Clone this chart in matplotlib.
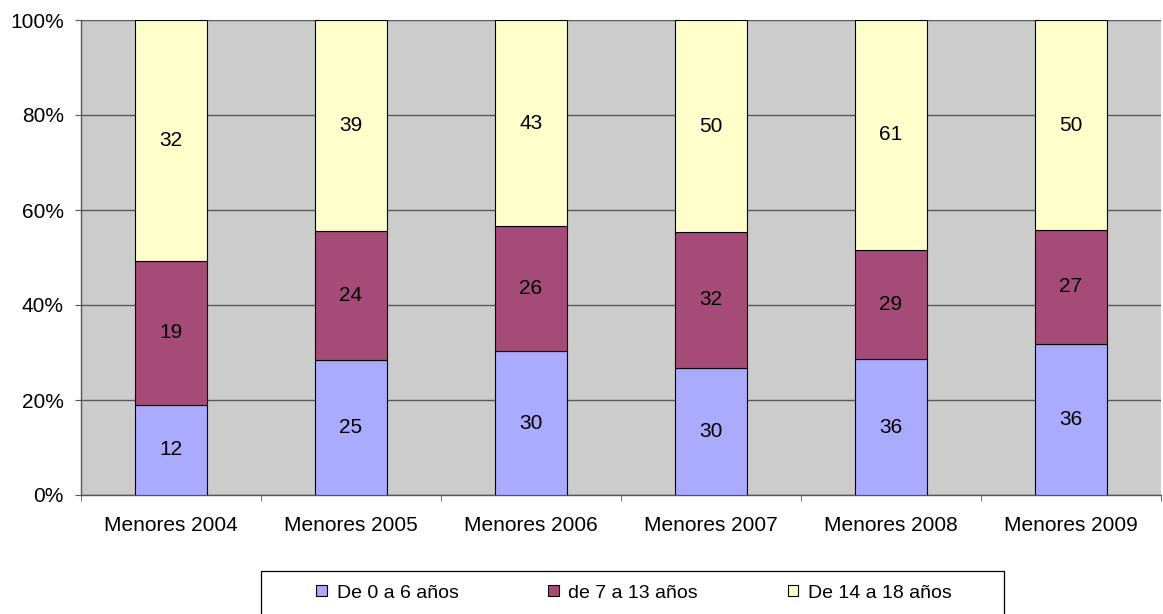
import matplotlib
matplotlib.use("Agg")
import matplotlib.pyplot as plt
import numpy as np
from matplotlib.patches import Patch, Rectangle
from matplotlib.ticker import PercentFormatter

plt.rcParams['font.family'] = ['Liberation Sans', 'DejaVu Sans']

categories = ["Menores 2004", "Menores 2005", "Menores 2006", "Menores 2007", "Menores 2008", "Menores 2009"]
series_names = ["De 0 a 6 años", "de 7 a 13 años", "De 14 a 18 años"]
s0_6 = [12, 25, 30, 30, 36, 36]
s7_13 = [19, 24, 26, 32, 29, 27]
s14_18 = [32, 39, 43, 50, 61, 50]
colors = ["#AAAAFF", "#A64B78", "#FFFFCC"]

data = np.array([s0_6, s7_13, s14_18], dtype=float)
totals = data.sum(axis=0)
pct = data / totals * 100

W, H = 1163, 614
fig = plt.figure(figsize=(W / 100, H / 100), dpi=100)
ax = fig.add_axes([81 / W, 1 - 495 / H, (1161 - 81) / W, (495 - 20) / H])
ax.set_facecolor("#CCCCCC")

x = np.arange(len(categories))
bottom = np.zeros(len(categories))
for i in range(3):
    ax.bar(x, pct[i], 0.4, bottom=bottom, color=colors[i], edgecolor="black", linewidth=0.8, zorder=3)
    for j in range(len(categories)):
        ax.text(x[j], bottom[j] + pct[i][j] / 2, f"{int(data[i][j])}", ha="center", va="center",
                fontsize=15, color="black", zorder=4)
    bottom += pct[i]

ax.set_xlim(-0.5, len(categories) - 0.5)
ax.set_ylim(0, 100)
ax.set_yticks(np.arange(0, 101, 20))
ax.yaxis.set_major_formatter(PercentFormatter(decimals=0))
ax.set_xticks(x)
ax.set_xticklabels(categories)
ax.set_xticks(np.arange(-0.5, len(categories), 1), minor=True)
ax.tick_params(axis="x", which="major", length=0, pad=15, labelsize=15)
ax.tick_params(axis="x", which="minor", length=4, color="#555555", direction="out")
ax.tick_params(axis="y", length=4.5, color="#555555", direction="out", labelsize=15, pad=8)
ax.grid(axis="y", color="#5A5A5A", linewidth=1, zorder=1)
for s in ["top", "right"]:
    ax.spines[s].set_visible(False)
for s in ["left", "bottom"]:
    ax.spines[s].set_color("#555555")
    ax.spines[s].set_linewidth(1)

# legend frame (drawn as a rectangle, partly cut by the figure's bottom edge)
fig.patches.append(Rectangle((261 / W, 1 - 616 / H), (1004 - 261) / W, (616 - 571) / H,
                             transform=fig.transFigure, facecolor="white", edgecolor="black",
                             linewidth=0.9, zorder=0))

handles = [Patch(facecolor=c, edgecolor="black", linewidth=0.8) for c in colors]
leg = fig.legend(handles, series_names, loc="center", ncol=3,
                 bbox_to_anchor=((305 + 963) / 2 / W, 1 - 593 / H),
                 frameon=False, fontsize=14,
                 handlelength=0.55, handleheight=0.55, handletextpad=0.5, columnspacing=4.6,
                 borderpad=0.0)

fig.savefig("out.png", dpi=100)
